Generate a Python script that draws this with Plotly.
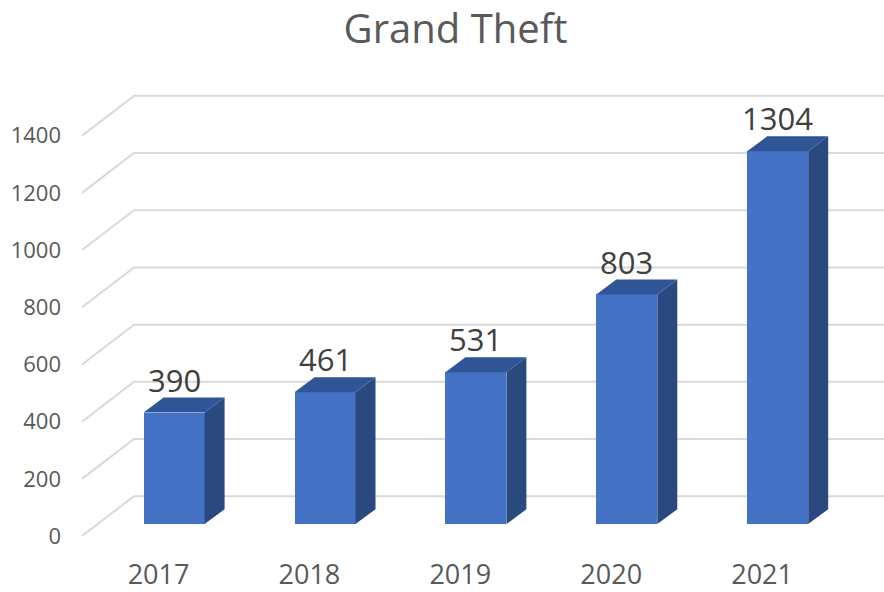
import plotly.graph_objects as go

# ---- data ----
years = ["2017", "2018", "2019", "2020", "2021"]
values = [390, 461, 531, 803, 1304]
y_ticks = [0, 200, 400, 600, 800, 1000, 1200, 1400]
title_text = "Grand Theft"

# ---- geometry (pixel-based styling converted to axis units) ----
W_PX, H_PX = 884, 592
L, R, T, B = 82, 0, 60, 44
PX_PER_CAT = 150.9
PX_PER_UNIT = 402 / 1400
X0 = (L - 158.5) / PX_PER_CAT
X1 = X0 + (W_PX - L - R) / PX_PER_CAT
Y0 = -(548 - 538) / PX_PER_UNIT
Y1 = Y0 + (H_PX - T - B) / PX_PER_UNIT

DX_FULL = 52 / PX_PER_CAT          # floor depth in x
DY_FULL = 40 / PX_PER_UNIT         # floor depth in y
SHIFT = 0.3 * DX_FULL              # bar front face depth
BASE = 0.3 * DY_FULL
BAR_W = 61 / PX_PER_CAT
DDX = 20 / PX_PER_CAT              # bar depth
DDY = 15 / PX_PER_UNIT

FRONT = "#4472C4"
SIDE = "#2A4A7F"
TOP = "#2F5597"
GRID = "#D9D9D9"
TXT = "#595959"
FONT = "Open Sans"

fig = go.Figure()

xs = [i + SHIFT for i in range(len(values))]
fig.add_trace(go.Bar(x=xs, y=values, base=BASE, width=BAR_W,
                     marker=dict(color=FRONT, line=dict(width=0)),
                     hoverinfo="skip", showlegend=False))

side_x, side_y, top_x, top_y = [], [], [], []
for xc, v in zip(xs, values):
    xl, xr = xc - BAR_W / 2, xc + BAR_W / 2
    yb, yt = BASE, BASE + v
    side_x += [xr, xr + DDX, xr + DDX, xr, xr, None]
    side_y += [yb, yb + DDY, yt + DDY, yt, yb, None]
    top_x += [xl, xl + DDX, xr + DDX, xr, xl, None]
    top_y += [yt, yt + DDY, yt + DDY, yt, yt, None]

fig.add_trace(go.Scatter(x=side_x, y=side_y, mode="lines", fill="toself",
                         fillcolor=SIDE, line=dict(width=0, color=SIDE),
                         hoverinfo="skip", showlegend=False))
fig.add_trace(go.Scatter(x=top_x, y=top_y, mode="lines", fill="toself",
                         fillcolor=TOP, line=dict(width=0, color=TOP),
                         hoverinfo="skip", showlegend=False))

# gridlines (floor-side diagonal + back wall)
for v in y_ticks:
    fig.add_shape(type="path", xref="x", yref="y", layer="below",
                  path=f"M {X0},{v} L {X0 + DX_FULL},{v + DY_FULL} L {X1},{v + DY_FULL}",
                  line=dict(color=GRID, width=2))

# data labels
for xc, v in zip(xs, values):
    fig.add_annotation(x=xc, y=BASE + v + DDY, text=str(v),
                       showarrow=False, yanchor="middle", yshift=18,
                       font=dict(family=FONT, size=31, color="#404040"))

fig.update_layout(
    width=W_PX, height=H_PX,
    margin=dict(l=L, r=R, t=T, b=B),
    paper_bgcolor="white", plot_bgcolor="white",
    title=dict(text=title_text, x=455.5 / W_PX, xanchor="center", y=1 - 29 / H_PX,
               yanchor="middle", yref="container",
               font=dict(family=FONT, size=40, color=TXT)),
    xaxis=dict(range=[X0, X1], tickvals=list(range(len(years))), ticktext=years,
               showgrid=False, zeroline=False, showline=False, ticks="",
               tickfont=dict(family=FONT, size=27, color=TXT), ticklabelstandoff=10),
    yaxis=dict(range=[Y0, Y1], tickvals=y_ticks, ticktext=[str(t) for t in y_ticks],
               showgrid=False, zeroline=False, showline=False, ticks="",
               tickfont=dict(family=FONT, size=22, color=TXT), ticklabelstandoff=20),
    bargap=0,
)

fig.write_html("out.html", config={"displayModeBar": False},
               post_script="document.body.style.margin='0';document.body.style.padding='0';")
